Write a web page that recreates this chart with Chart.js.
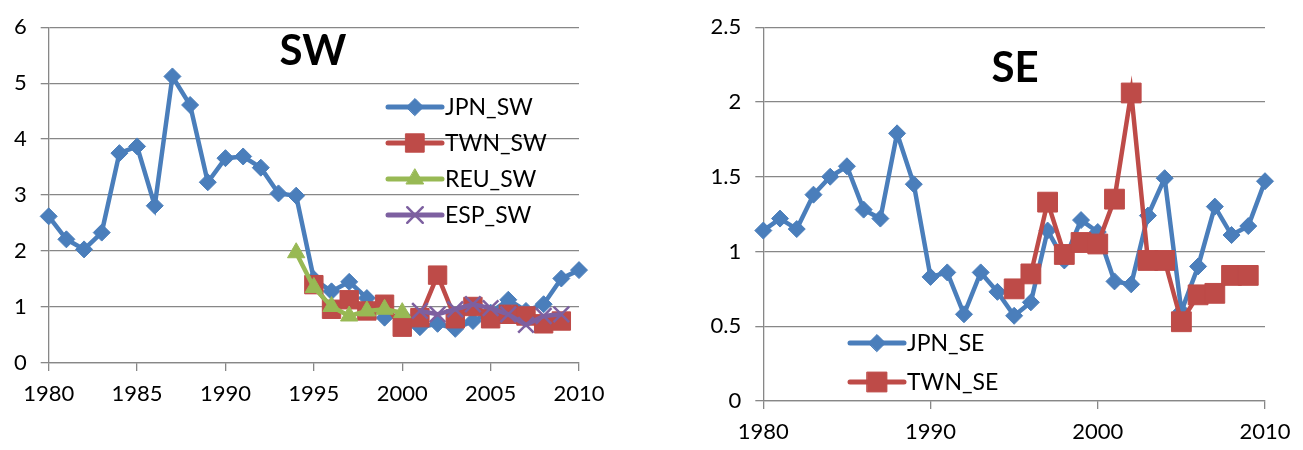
<!DOCTYPE html>
<html>
<head>
<meta charset="utf-8">
<script src="https://cdn.jsdelivr.net/npm/chart.js@4/dist/chart.umd.min.js"></script>
<style>
  body { margin: 0; background: #fff; width: 1303px; height: 450px; overflow: hidden; position: relative; }
  #swChart { position: absolute; left: 0; top: 0; }
  #seChart { position: absolute; left: 690px; top: 0; }
</style>
</head>
<body>
<canvas id="swChart" width="620" height="420"></canvas>
<canvas id="seChart" width="613" height="450"></canvas>
<script>
// Data
const jpnYears = [1980, 1981, 1982, 1983, 1984, 1985, 1986, 1987, 1988, 1989, 1990,
  1991, 1992, 1993, 1994, 1995, 1996, 1997, 1998, 1999, 2000,
  2001, 2002, 2003, 2004, 2005, 2006, 2007, 2008, 2009, 2010];
const jpnSW = [2.62, 2.21, 2.03, 2.33, 3.75, 3.87, 2.81, 5.12, 4.61, 3.23, 3.66,
  3.69, 3.49, 3.03, 2.99, 1.5, 1.28, 1.45, 1.16, 0.81, 0.85,
  0.64, 0.7, 0.61, 0.75, 0.9, 1.13, 0.93, 1.05, 1.51, 1.66];
const twnYears = [1995, 1996, 1997, 1998, 1999, 2000, 2001, 2002, 2003, 2004, 2005, 2006, 2007, 2008, 2009];
const twnSW = [1.4, 0.96, 1.13, 0.93, 1.05, 0.64, 0.81, 1.57, 0.79, 1.01, 0.79, 0.87, 0.84, 0.7, 0.75];
const reuYears = [1994, 1995, 1996, 1997, 1998, 1999, 2000];
const reuSW = [1.97, 1.35, 1.01, 0.84, 0.93, 0.96, 0.9];
const espYears = [2001, 2002, 2003, 2004, 2005, 2006, 2007, 2008, 2009];
const espSW = [0.93, 0.87, 0.96, 1.05, 0.98, 0.87, 0.68, 0.84, 0.87];

const jpnSE = [1.14, 1.22, 1.15, 1.38, 1.5, 1.57, 1.28, 1.22, 1.79, 1.45, 0.83,
  0.86, 0.58, 0.86, 0.73, 0.57, 0.66, 1.14, 0.94, 1.21, 1.13,
  0.8, 0.78, 1.24, 1.49, 0.6, 0.9, 1.3, 1.11, 1.17, 1.47];
const twnSE = [0.75, 0.85, 1.33, 0.98, 1.06, 1.05, 1.35, 2.06, 0.94, 0.94, 0.53, 0.71, 0.72, 0.84, 0.84];

const swTicksY = [0, 1, 2, 3, 4, 5, 6];
const seTicksY = [0, 0.5, 1, 1.5, 2, 2.5];

const BLUE = "#4a7ebb";
const RED = "#be4b48";
const GREEN = "#98b954";
const PURPLE = "#7d60a0";
const GRID = "#878787";
const FONT = "Lato, 'Open Sans', sans-serif";

function pairs(xs, ys) {
  return xs.map((x, i) => ({ x: x, y: ys[i] }));
}

function series(label, xs, ys, color, style, radius, order) {
  return {
    label: label,
    data: pairs(xs, ys),
    borderColor: color,
    backgroundColor: color,
    borderWidth: 4.5,
    pointStyle: style,
    pointRadius: radius,
    pointHoverRadius: radius,
    pointBackgroundColor: color,
    pointBorderColor: color,
    pointBorderWidth: style === "crossRot" ? 2.5 : 1,
    tension: 0,
    clip: false,
    order: order,
  };
}

// title + legend drawn inside the plot area
const insideText = {
  id: "insideText",
  afterDraw(chart, args, opts) {
    const ctx = chart.ctx;
    ctx.save();
    ctx.fillStyle = "#000";
    ctx.font = "bold 42px " + FONT;
    ctx.textAlign = "center";
    ctx.textBaseline = "alphabetic";
    ctx.fillText(opts.title, opts.titleX, opts.titleY);

    ctx.font = "23px " + FONT;
    ctx.textAlign = "left";
    ctx.textBaseline = "middle";
    chart.data.datasets.forEach((ds, i) => {
      const y = opts.legendY + i * opts.legendGap;
      const x0 = opts.legendX;
      ctx.strokeStyle = ds.borderColor;
      ctx.lineWidth = 5;
      ctx.lineCap = "round";
      ctx.beginPath();
      ctx.moveTo(x0, y);
      ctx.lineTo(x0 + 54, y);
      ctx.stroke();
      ctx.fillStyle = ds.borderColor;
      ctx.lineWidth = ds.pointBorderWidth;
      Chart.helpers.drawPoint(ctx, {
        pointStyle: ds.pointStyle,
        radius: ds.pointRadius,
        borderWidth: ds.pointBorderWidth,
        rotation: 0,
      }, x0 + 27, y);
      ctx.fillStyle = "#000";
      ctx.fillText(ds.label, x0 + 57, y + 1);
    });
    ctx.restore();
  },
};

function axes(stepX, ticksY, maxY, yWidth, xHeight) {
  return {
    x: {
      type: "linear",
      min: 1980,
      max: 2010,
      afterFit: (s) => { s.height = xHeight; },
      grid: { drawOnChartArea: false, drawTicks: true, tickLength: 8, color: GRID, lineWidth: 1.3 },
      border: { color: GRID, width: 1.3 },
      ticks: {
        stepSize: stepX,
        color: "#000",
        padding: 10,
        maxRotation: 0,
        font: { family: FONT, size: 22 },
        callback: (v) => String(v),
      },
    },
    y: {
      min: 0,
      max: maxY,
      afterFit: (s) => { s.width = yWidth; },
      afterBuildTicks: (s) => { s.ticks = ticksY.map((v) => ({ value: v })); },
      grid: { drawTicks: true, tickLength: 8, color: GRID, lineWidth: 1.3 },
      border: { color: GRID, width: 1.3 },
      ticks: {
        color: "#000",
        padding: 14,
        font: { family: FONT, size: 22 },
        callback: (v) => String(v),
      },
    },
  };
}

new Chart(document.getElementById("swChart"), {
  type: "line",
  data: {
    datasets: [
      series("JPN_SW", jpnYears, jpnSW, BLUE, "rectRot", 8.5, 4),
      series("TWN_SW", twnYears, twnSW, RED, "rect", 13, 3),
      series("REU_SW", reuYears, reuSW, GREEN, "triangle", 10, 2),
      series("ESP_SW", espYears, espSW, PURPLE, "crossRot", 11, 1),
    ],
  },
  options: {
    responsive: false,
    animation: false,
    layout: { padding: { top: 20, right: 41, left: 0, bottom: 0 } },
    scales: axes(5, swTicksY, 6, 48.7, 57),
    plugins: {
      legend: { display: false },
      tooltip: { enabled: false },
      insideText: { title: "SW", titleX: 313, titleY: 65, legendX: 388, legendY: 107, legendGap: 36 },
    },
  },
  plugins: [insideText],
});

new Chart(document.getElementById("seChart"), {
  type: "line",
  data: {
    datasets: [
      series("JPN_SE", jpnYears, jpnSE, BLUE, "rectRot", 8.5, 2),
      series("TWN_SE", twnYears, twnSE, RED, "rect", 14, 1),
    ],
  },
  options: {
    responsive: false,
    animation: false,
    layout: { padding: { top: 22.7, right: 38, left: 0, bottom: 0 } },
    scales: axes(10, seTicksY, 2.5, 73.3, 49),
    plugins: {
      legend: { display: false },
      tooltip: { enabled: false },
      insideText: { title: "SE", titleX: 325, titleY: 82, legendX: 160, legendY: 343, legendGap: 39 },
    },
  },
  plugins: [insideText],
});
</script>
</body>
</html>
